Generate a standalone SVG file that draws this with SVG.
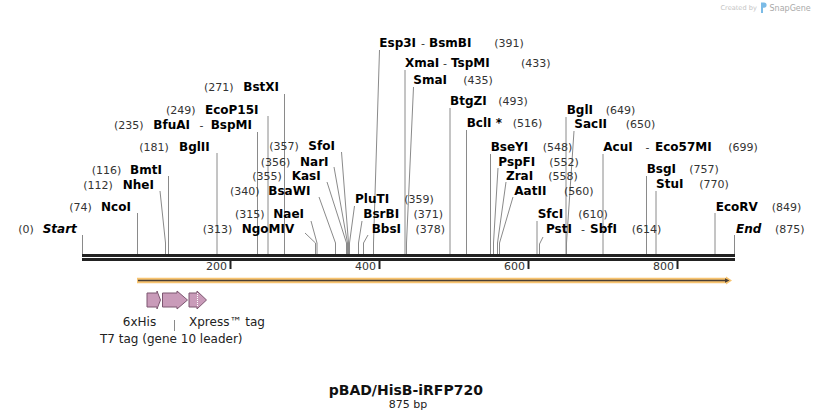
<svg xmlns="http://www.w3.org/2000/svg" width="818" height="420" viewBox="0 0 818 420">
<style>
text { font-family: "DejaVu Sans", Verdana, sans-serif; }
.n { font-size: 11px; fill: #333; }
.b { font-size: 12px; font-weight: bold; fill: #000; }
.bi { font-size: 12px; font-weight: bold; font-style: italic; fill: #000; }
.c { stroke: #8a8a8a; stroke-width: 1; fill: none; }
.feat { fill: #c99bb9; stroke: #7c5670; stroke-width: 1; }
.lg { font-size: 12px; fill: #222; }
</style>
<rect width="818" height="420" fill="#fff"/>

<g id="logo">
<text x="720.5" y="10" style="font-size:6.6px;fill:#c4c4c4">Created by</text>
<path d="M761,2.5 h3 a2.6,2.6 0 0 1 0,5.2 h-1 v5.3 h-2 z" fill="#7bbbe6"/>
<text x="769.5" y="10.5" style="font-size:8px;fill:#a9a9a9">SnapGene</text>
</g>

<g id="connectors">
<path class="c" d="M82.5,235 V254"/>
<path class="c" d="M137.5,213 V254"/>
<path class="c" d="M160,191 L165.5,243 V254"/>
<path class="c" d="M168.5,176 V254"/>
<path class="c" d="M217,153 V254"/>
<path class="c" d="M257.5,132 V254"/>
<path class="c" d="M268,116 V254"/>
<path class="c" d="M284.5,94 V254"/>
<path class="c" d="M305,233 L315.5,243 V254"/>
<path class="c" d="M311,221 L317,243 V254"/>
<path class="c" d="M319,197 L335.5,243 V254"/>
<path class="c" d="M327,182 L346.5,243 V254"/>
<path class="c" d="M334,167 L347.5,243 V254"/>
<path class="c" d="M341.5,152 L348.5,243 V254"/>
<path class="c" d="M354.5,206 L349.5,243 V254"/>
<path class="c" d="M362,221 L358.5,243 V254"/>
<path class="c" d="M368,235 L363.5,243 V254"/>
<path class="c" d="M379.5,50 L373.5,243 V254"/>
<path class="c" d="M405,70 V254"/>
<path class="c" d="M413.5,87 L406.5,243 V254"/>
<path class="c" d="M450,108 V254"/>
<path class="c" d="M466.5,130 V254"/>
<path class="c" d="M490.5,154 V254"/>
<path class="c" d="M498,168 L493.5,243 V254"/>
<path class="c" d="M506,182 L497.5,243 V254"/>
<path class="c" d="M513,197 L499.5,243 V254"/>
<path class="c" d="M537,221 V254"/>
<path class="c" d="M543,237 L539.5,244 V254"/>
<path class="c" d="M566,117 V254"/>
<path class="c" d="M574,131 L566.5,243 V254"/>
<path class="c" d="M603,154 V254"/>
<path class="c" d="M646.5,176 V254"/>
<path class="c" d="M656,191 V254"/>
<path class="c" d="M715,213 V254"/>
<path class="c" d="M734.5,235 V254"/>
<path class="c" d="M174.5,320 V331"/>
</g>

<g id="ruler">
<rect x="82" y="254" width="653" height="3" fill="#222"/>
<rect x="82" y="258" width="653" height="3" fill="#222"/>
<rect x="229.5" y="261" width="2" height="8" fill="#222"/>
<rect x="378.5" y="261" width="2" height="8" fill="#222"/>
<rect x="527.5" y="261" width="2" height="8" fill="#222"/>
<rect x="676.5" y="261" width="2" height="8" fill="#222"/>
<text class="n" x="227" y="270" text-anchor="end">200</text>
<text class="n" x="376" y="270" text-anchor="end">400</text>
<text class="n" x="525" y="270" text-anchor="end">600</text>
<text class="n" x="674" y="270" text-anchor="end">800</text>
</g>

<g id="orf">
<line x1="137" y1="280.5" x2="727" y2="280.5" stroke="#f8c470" stroke-width="5.5"/>
<polygon points="726,276.5 732,280.5 726,284.5" fill="#f8c470"/>
<line x1="138" y1="280.5" x2="727" y2="280.5" stroke="#4a3f35" stroke-width="1.6"/>
<polygon points="725,278.3 729.5,280.5 725,282.7" fill="#4a3f35"/>
</g>

<g id="f-6xHis">
<path class="feat" d="M147,293 H157 V291 L160.5,300 L157,309 V307 H147 Z"/>
<text class="lg" x="139.5" y="326" text-anchor="middle">6xHis</text>
</g>
<g id="f-T7tag">
<path class="feat" d="M162.5,293 H177 V291 L187.5,300 L177,309 V307 H162.5 Z"/>
<text class="lg" x="100" y="343">T7 tag (gene 10 leader)</text>
</g>
<g id="f-Xpress">
<path class="feat" d="M189,293 H197 V291 L206.5,300 L197,309 V307 H189 Z"/>
<line x1="197.5" y1="293" x2="197.5" y2="307" stroke="#fff" stroke-width="1" stroke-dasharray="1,1"/>
<text class="lg" x="189" y="326">Xpress™ tag</text>
</g>

<g id="Start"><text class="n" x="18.3" y="233.3">(0)</text><text class="bi" x="42.7" y="233.3">Start</text></g>
<g id="NcoI"><text class="n" x="69.3" y="211">(74)</text><text class="b" x="101" y="211">NcoI</text></g>
<g id="NheI"><text class="n" x="83.3" y="189">(112)</text><text class="b" x="122.7" y="189">NheI</text></g>
<g id="BmtI"><text class="n" x="91.7" y="174">(116)</text><text class="b" x="130" y="174">BmtI</text></g>
<g id="BglII"><text class="n" x="139.3" y="150.7">(181)</text><text class="b" x="179" y="150.7">BglII</text></g>
<g id="BfuAI"><text class="n" x="114" y="129.3">(235)</text><text class="b" x="153.3" y="129.3">BfuAI</text><text class="n" x="199.5" y="129.3">-</text><text class="b" x="210.7" y="129.3">BspMI</text></g>
<g id="EcoP15I"><text class="n" x="166" y="113.5">(249)</text><text class="b" x="205" y="113.5">EcoP15I</text></g>
<g id="BstXI"><text class="n" x="204" y="91">(271)</text><text class="b" x="243.3" y="91">BstXI</text></g>
<g id="NgoMIV"><text class="n" x="202.7" y="233">(313)</text><text class="b" x="241.7" y="233">NgoMIV</text></g>
<g id="NaeI"><text class="n" x="235" y="218.3">(315)</text><text class="b" x="273.3" y="218.3">NaeI</text></g>
<g id="BsaWI"><text class="n" x="230" y="195">(340)</text><text class="b" x="268.3" y="195">BsaWI</text></g>
<g id="KasI"><text class="n" x="252.3" y="180">(355)</text><text class="b" x="291.7" y="180">KasI</text></g>
<g id="NarI"><text class="n" x="260.7" y="165.7">(356)</text><text class="b" x="300" y="165.7">NarI</text></g>
<g id="SfoI"><text class="n" x="269.3" y="150">(357)</text><text class="b" x="308.3" y="150">SfoI</text></g>
<g id="PluTI"><text class="b" x="355" y="203.3">PluTI</text><text class="n" x="404.3" y="203.3">(359)</text></g>
<g id="BsrBI"><text class="b" x="363.3" y="218.3">BsrBI</text><text class="n" x="413.5" y="218.3">(371)</text></g>
<g id="BbsI"><text class="b" x="371.7" y="232.7">BbsI</text><text class="n" x="415.5" y="232.7">(378)</text></g>
<g id="Esp3I"><text class="b" x="379.3" y="47.3">Esp3I</text><text class="n" x="421" y="47.3">-</text><text class="b" x="429" y="47.3">BsmBI</text><text class="n" x="494.3" y="47.3">(391)</text></g>
<g id="XmaI"><text class="b" x="405" y="67.3">XmaI</text><text class="n" x="443" y="67.3">-</text><text class="b" x="451" y="67.3">TspMI</text><text class="n" x="521" y="67.3">(433)</text></g>
<g id="SmaI"><text class="b" x="413.3" y="84">SmaI</text><text class="n" x="463.3" y="84">(435)</text></g>
<g id="BtgZI"><text class="b" x="450" y="105">BtgZI</text><text class="n" x="498.3" y="105">(493)</text></g>
<g id="BclI"><text class="b" x="466.7" y="127.3">BclI *</text><text class="n" x="512.7" y="127.3">(516)</text></g>
<g id="BseYI"><text class="b" x="490.7" y="150.7">BseYI</text><text class="n" x="542.7" y="150.7">(548)</text></g>
<g id="PspFI"><text class="b" x="498.3" y="165.7">PspFI</text><text class="n" x="549.3" y="165.7">(552)</text></g>
<g id="ZraI"><text class="b" x="506" y="180">ZraI</text><text class="n" x="548.3" y="180">(558)</text></g>
<g id="AatII"><text class="b" x="514.3" y="195">AatII</text><text class="n" x="564" y="195">(560)</text></g>
<g id="SfcI"><text class="b" x="537.7" y="218.3">SfcI</text><text class="n" x="578.3" y="218.3">(610)</text></g>
<g id="PstI"><text class="b" x="546" y="233.3">PstI</text><text class="n" x="581" y="233.3">-</text><text class="b" x="590" y="233.3">SbfI</text><text class="n" x="631.7" y="233.3">(614)</text></g>
<g id="BglI"><text class="b" x="566.7" y="114">BglI</text><text class="n" x="605.7" y="114">(649)</text></g>
<g id="SacII"><text class="b" x="574.3" y="128.3">SacII</text><text class="n" x="625.7" y="128.3">(650)</text></g>
<g id="AcuI"><text class="b" x="603.3" y="150.7">AcuI</text><text class="n" x="645.5" y="150.7">-</text><text class="b" x="655" y="150.7">Eco57MI</text><text class="n" x="728.3" y="150.7">(699)</text></g>
<g id="BsgI"><text class="b" x="646.7" y="173.3">BsgI</text><text class="n" x="689.3" y="173.3">(757)</text></g>
<g id="StuI"><text class="b" x="656" y="188.3">StuI</text><text class="n" x="699.3" y="188.3">(770)</text></g>
<g id="EcoRV"><text class="b" x="715.7" y="210.7">EcoRV</text><text class="n" x="771.7" y="210.7">(849)</text></g>
<g id="End"><text class="bi" x="736" y="233.3">End</text><text class="n" x="775" y="233.3">(875)</text></g>

<g id="title">
<text x="405.8" y="395" text-anchor="middle" style="font-size:14px;font-weight:bold;fill:#111">pBAD/HisB-iRFP720</text>
<text x="408" y="407.5" text-anchor="middle" style="font-size:11px;fill:#222">875 bp</text>
</g>
</svg>
